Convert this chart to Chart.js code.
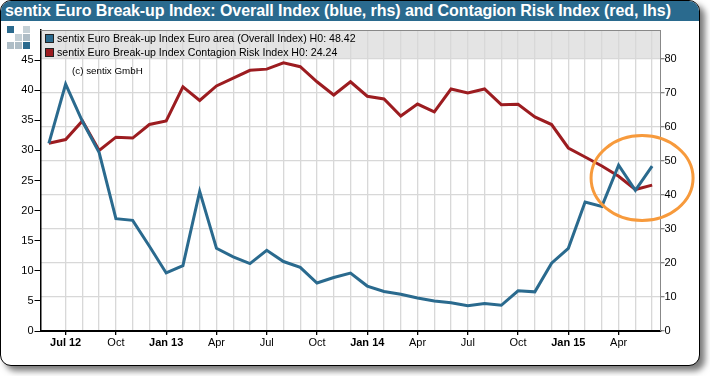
<!DOCTYPE html>
<html>
<head>
<meta charset="utf-8">
<title>sentix Euro Break-up Index</title>
<script src="https://cdn.jsdelivr.net/npm/chart.js@4"></script>
<style>
  html, body { margin: 0; padding: 0; background: #fff; }
  body { width: 710px; height: 376px; position: relative; overflow: hidden; font-family: "Liberation Sans", Arial, sans-serif; }
  #frame { position: absolute; left: 0; top: 0; width: 698px; height: 364px; border: 1px solid #000; border-radius: 11px; background: #fff; box-shadow: 5px 5px 6px #7a7a7a; overflow: hidden; }
  #title { background: #2a6a8e; color: #fff; font-weight: bold; font-size: 16px; letter-spacing: -0.07px; line-height: 20px; height: 20px; padding-left: 4px; white-space: nowrap; }
  #chart { position: absolute; left: 0; top: 0; }
  .logo { position: absolute; width: 7px; height: 7px; }
  .legend { position: absolute; left: 45px; font-size: 10.6px; line-height: 14px; white-space: nowrap; color: #000; }
  .legend i { display: inline-block; width: 7px; height: 7px; border: 1px solid #222; margin-right: 3px; vertical-align: -1px; }
  #copy { position: absolute; left: 72px; top: 65px; font-size: 9.8px; line-height: 12px; color: #000; }
</style>
</head>
<body>
<div id="frame"><div id="title">sentix Euro Break-up Index: Overall Index (blue, rhs) and Contagion Risk Index (red, lhs)</div></div>
<canvas id="chart" width="710" height="376"></canvas>
<div id="logo"></div>
<div class="legend" style="top:31px"><i style="background:#2a6a8e"></i>sentix Euro Break-up Index Euro area (Overall Index) H0: 48.42</div>
<div class="legend" style="top:45px"><i style="background:#9c1c20"></i>sentix Euro Break-up Index Contagion Risk Index H0: 24.24</div>
<div id="copy">(c) sentix GmbH</div>
<script>
const months = [
  'Jun 12', 'Jul 12', 'Aug 12', 'Sep 12', 'Oct 12', 'Nov 12', 'Dec 12',
  'Jan 13', 'Feb 13', 'Mar 13', 'Apr 13', 'May 13', 'Jun 13', 'Jul 13', 'Aug 13', 'Sep 13', 'Oct 13', 'Nov 13', 'Dec 13',
  'Jan 14', 'Feb 14', 'Mar 14', 'Apr 14', 'May 14', 'Jun 14', 'Jul 14', 'Aug 14', 'Sep 14', 'Oct 14', 'Nov 14', 'Dec 14',
  'Jan 15', 'Feb 15', 'Mar 15', 'Apr 15', 'May 15', 'Jun 15'
];
const tickLabels = [
  '', 'Jul 12', '', '', 'Oct', '', '',
  'Jan 13', '', '', 'Apr', '', '', 'Jul', '', '', 'Oct', '', '',
  'Jan 14', '', '', 'Apr', '', '', 'Jul', '', '', 'Oct', '', '',
  'Jan 15', '', '', 'Apr', '', ''
];
const boldLabels = ['Jul 12', 'Jan 13', 'Jan 14', 'Jan 15'];

// overall index, right axis
const overallIndex = [
  55.1, 72.5, 61.6, 52.4, 33, 32.5, 24.9,
  17.05, 19.2, 41, 24.3, 21.8, 19.8, 23.7, 20.4, 18.7, 14.1, 15.7, 17,
  13.2, 11.6, 10.8, 9.7, 8.8, 8.3, 7.45, 8.1, 7.55, 11.8, 11.5, 19.9,
  24.3, 37.9, 36.6, 48.7, 41.3, 48.42
];
// contagion risk index, left axis
const contagionIndex = [
  31.2, 31.8, 34.9, 30, 32.2, 32.05, 34.3,
  34.9, 40.55, 38.3, 40.7, 42, 43.3, 43.5, 44.55, 43.9, 41.4, 39.2, 41.4,
  39, 38.55, 35.7, 37.7, 36.4, 40.2, 39.55, 40.2, 37.6, 37.65, 35.55, 34.3,
  30.4, 28.9, 27.4, 25.7, 23.5, 24.24
];

const leftMax = 50;
const rightMax = 88.4;
const bandFrom = 80; // legend band starts at this right axis value

// little logo squares, top left
const logoCells = [[0, 0, '#2a6a8e'], [2, 0, '#c4d0d6'], [1, 1, '#c4d0d6'], [2, 1, '#aebdc6'], [0, 2, '#aebdc6'], [1, 2, '#aebdc6'], [2, 2, '#2a6a8e']];
const logo = document.getElementById('logo');
logoCells.forEach(([cx, cy, color]) => {
  const d = document.createElement('div');
  d.className = 'logo';
  d.style.cssText = `left:${7 + cx * 8}px;top:${26 + cy * 8}px;background:${color}`;
  logo.appendChild(d);
});

const framePlugin = {
  id: 'frameBits',
  beforeDraw(chart) {
    const { ctx, chartArea: a, scales } = chart;
    ctx.save();
    ctx.fillStyle = '#e4e4e4';
    ctx.fillRect(a.left, a.top, a.right - a.left, scales.yRight.getPixelForValue(bandFrom) - a.top);
    ctx.restore();
  },
  afterDraw(chart) {
    const { ctx, chartArea: a, scales } = chart;
    ctx.save();
    ctx.strokeStyle = '#888';
    ctx.lineWidth = 1;
    ctx.beginPath();
    ctx.moveTo(a.left, a.top + 0.5);
    ctx.lineTo(a.right, a.top + 0.5);
    ctx.stroke();
    // orange ring round the last months
    ctx.strokeStyle = '#f79a3c';
    ctx.lineWidth = 3;
    ctx.beginPath();
    ctx.ellipse(scales.x.getPixelForValue(35.4), scales.yRight.getPixelForValue(44.9), 51, 42.5, 0, 0, Math.PI * 2);
    ctx.stroke();
    ctx.restore();
  }
};

new Chart(document.getElementById('chart'), {
  type: 'line',
  data: {
    labels: months,
    datasets: [
      { label: 'Overall Index', data: overallIndex, yAxisID: 'yRight', borderColor: '#2a6a8e', borderWidth: 3, pointRadius: 0, tension: 0 },
      { label: 'Contagion Risk Index', data: contagionIndex, yAxisID: 'yLeft', borderColor: '#9c1c20', borderWidth: 3, pointRadius: 0, tension: 0 }
    ]
  },
  options: {
    responsive: false,
    animation: false,
    layout: { padding: { top: 30, left: 0, right: 0, bottom: 0 } },
    plugins: { legend: { display: false }, tooltip: { enabled: false } },
    scales: {
      x: {
        offset: true,
        border: { color: '#000', width: 2 },
        grid: {
          color: (c) => (c.index === 0 ? 'transparent' : '#d8d8d8'),
          lineWidth: 1.3,
          tickLength: 4,
          tickColor: (c) => (tickLabels[c.index] ? '#000' : 'transparent')
        },
        ticks: {
          autoSkip: false,
          maxRotation: 0,
          padding: 1,
          color: '#000',
          callback: (v, i) => tickLabels[i],
          font: (c) => ({ family: '"Liberation Sans", Arial, sans-serif', size: 11, weight: boldLabels.includes(c.tick && c.tick.label) ? 'bold' : 'normal' })
        },
        afterFit: (s) => { s.height = 45; }
      },
      yLeft: {
        position: 'left',
        min: 0,
        max: leftMax,
        border: { color: '#000', width: 1.5 },
        grid: { drawOnChartArea: false, tickLength: 6, tickColor: '#000' },
        ticks: { stepSize: 5, color: '#000', padding: 1, font: { family: '"Liberation Sans", Arial, sans-serif', size: 11 } },
        afterBuildTicks: (s) => { s.ticks = s.ticks.filter((t) => t.value < leftMax); },
        afterFit: (s) => { s.width = 40.5; }
      },
      yRight: {
        position: 'right',
        min: 0,
        max: rightMax,
        border: { color: '#888', width: 1 },
        grid: { color: '#d8d8d8', lineWidth: 1.3, tickLength: 4, tickColor: '#888' },
        ticks: { stepSize: 10, color: '#000', padding: 0, font: { family: '"Liberation Sans", Arial, sans-serif', size: 11 } },
        afterBuildTicks: (s) => { s.ticks = s.ticks.filter((t) => t.value <= bandFrom); },
        afterFit: (s) => { s.width = 49.5; }
      }
    }
  },
  plugins: [framePlugin]
});
</script>
</body>
</html>
